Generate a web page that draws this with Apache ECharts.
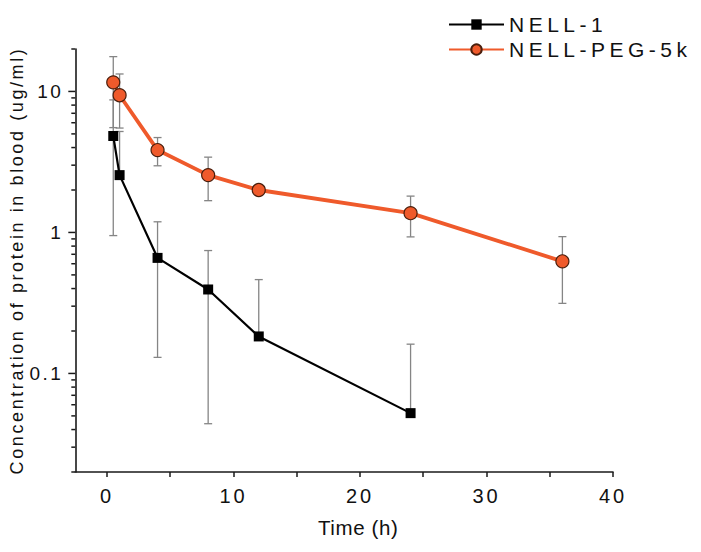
<!DOCTYPE html>
<html>
<head>
<meta charset="utf-8">
<script src="https://cdn.jsdelivr.net/npm/echarts@6/dist/echarts.min.js"></script>
<style>
html,body{margin:0;padding:0;background:#fff;}
#chart{width:701px;height:552px;}
</style>
</head>
<body>
<div id="chart"></div>
<script>
// ---- data ----
const TIMES_NELL1 = [0.5, 1, 4, 8, 12, 24];
const NELL1 = [4.83, 2.55, 0.66, 0.394, 0.183, 0.0523];
const NELL1_SD = [3.88, 2.65, 0.53, 0.35, 0.28, 0.109];

const TIMES_PEG = [0.5, 1, 4, 8, 12, 24, 36];
const PEG = [11.6, 9.4, 3.84, 2.55, 2.0, 1.37, 0.624];
const PEG_SD = [6.06, 3.9, 0.87, 0.87, 0.15, 0.44, 0.31];

const X_LABELS = [0, 10, 20, 30, 40];
const X_TICKS = [0, 5, 10, 15, 20, 25, 30, 35, 40];
const Y_MAJOR = [0.1, 1, 10];
const Y_MINOR = [0.02, 0.03, 0.04, 0.05, 0.06, 0.07, 0.08, 0.09,
                 0.2, 0.3, 0.4, 0.5, 0.6, 0.7, 0.8, 0.9,
                 2, 3, 4, 5, 6, 7, 8, 9, 20];

const NAMES = ['NELL-1', 'NELL-PEG-5k'];
const X_MIN = -2.5, X_MAX = 40, Y_MIN = 0.02, Y_MAX = 20;

// ---- build options ----
const FONT = 'Liberation Sans';
const ORANGE = '#EF5A2B';
const AXIS = '#1a1a1a';

function pairs(xs, ys) { return xs.map((x, i) => [x, ys[i]]); }
function errRows(xs, ys, sd) { return xs.map((x, i) => [x, ys[i], sd[i]]); }

function errorBarRender(params, api) {
  const t = api.value(0), m = api.value(1), e = api.value(2);
  const mid = api.coord([t, m]);
  const hi = api.coord([t, m + e]);
  const hasLo = (m - e) > 0;
  const lo = hasLo ? api.coord([t, m - e]) : mid;
  const cw = 4;
  const st = { stroke: '#858585', lineWidth: 1.3 };
  const ch = [
    { type: 'line', shape: { x1: hi[0], y1: hi[1], x2: lo[0], y2: lo[1] }, style: st },
    { type: 'line', shape: { x1: hi[0] - cw, y1: hi[1], x2: hi[0] + cw, y2: hi[1] }, style: st }
  ];
  if (hasLo) ch.push({ type: 'line', shape: { x1: lo[0] - cw, y1: lo[1], x2: lo[0] + cw, y2: lo[1] }, style: st });
  return { type: 'group', children: ch };
}

function tickRender(len) {
  return function (params, api) {
    const p = api.coord([api.value(0), api.value(1)]);
    const x0 = params.coordSys.x;
    return { type: 'line', shape: { x1: x0 - len, y1: p[1], x2: x0, y2: p[1] },
             style: { stroke: AXIS, lineWidth: 1.5 } };
  };
}

const option = {
  animation: false,
  backgroundColor: '#fff',
  textStyle: { fontFamily: FONT, color: AXIS },
  legend: {
    orient: 'vertical',
    left: 443, top: 9,
    itemWidth: 55, itemHeight: 13,
    itemGap: 4,
    data: NAMES,
    textStyle: { fontSize: 21, color: '#111', fontFamily: FONT },
    lineStyle: { width: 2 }
  },
  grid: { left: 75, right: 88, top: 49, bottom: 80, containLabel: false },
  xAxis: {
    type: 'value', min: X_MIN, max: X_MAX,
    name: 'Time (h)', nameLocation: 'middle', nameGap: 45,
    nameTextStyle: { fontSize: 20.5, color: '#111', padding: [0, 0, 0, 28] },
    axisLine: { onZero: false, lineStyle: { color: AXIS, width: 1.6 } },
    axisTick: { customValues: X_TICKS, length: 5, lineStyle: { color: AXIS, width: 1.5 } },
    axisLabel: { customValues: X_LABELS, fontSize: 20, color: '#111', margin: 14 },
    splitLine: { show: false }
  },
  yAxis: {
    type: 'log', logBase: 10, min: Y_MIN, max: Y_MAX,
    name: 'Concentration of protein in blood (ug/ml)', nameLocation: 'middle', nameGap: 47,
    nameTextStyle: { fontSize: 18, color: '#111' },
    axisLine: { onZero: false, lineStyle: { color: AXIS, width: 1.6 } },
    axisTick: { show: false },
    axisLabel: {
      fontSize: 19, color: '#111', margin: 12,
      formatter: function (v) {
        const l = Math.log10(v);
        if (Math.abs(l - Math.round(l)) > 1e-6) return '';
        return String(+v.toPrecision(6));
      }
    },
    splitLine: { show: false },
    minorTick: { show: false }
  },
  series: [
    { type: 'custom', name: 'ymajor', renderItem: tickRender(7), silent: true,
      encode: { x: 0, y: 1 }, data: Y_MAJOR.map(v => [X_MIN, v]), z: 5 },
    { type: 'custom', name: 'yminor', renderItem: tickRender(4), silent: true,
      encode: { x: 0, y: 1 }, data: Y_MINOR.map(v => [X_MIN, v]), z: 5 },
    { type: 'custom', name: 'err1', renderItem: errorBarRender, silent: true,
      encode: { x: 0, y: 1 }, data: errRows(TIMES_NELL1, NELL1, NELL1_SD), z: 1 },
    { type: 'custom', name: 'err2', renderItem: errorBarRender, silent: true,
      encode: { x: 0, y: 1 }, data: errRows(TIMES_PEG, PEG, PEG_SD), z: 1 },
    {
      type: 'line', name: NAMES[0], data: pairs(TIMES_NELL1, NELL1), z: 3,
      symbol: 'rect', symbolSize: 10, showAllSymbol: true,
      lineStyle: { color: '#000', width: 2.2 },
      itemStyle: { color: '#000', borderColor: '#000', borderWidth: 0 }
    },
    {
      type: 'line', name: NAMES[1], data: pairs(TIMES_PEG, PEG), z: 4,
      symbol: 'circle', symbolSize: 13, showAllSymbol: true,
      lineStyle: { color: ORANGE, width: 3.8 },
      itemStyle: { color: ORANGE, borderColor: '#4a1e0c', borderWidth: 1.2 }
    }
  ]
};

const chart = echarts.init(document.getElementById('chart'), null, { renderer: 'svg' });
chart.on('finished', function () {
  const spacing = { '21px': '4.5px', '19px': '2.5px', '20px': '2.8px', '18px': '2.6px', '20.5px': '0.6px' };
  document.querySelectorAll('#chart svg text').forEach(function (t) {
    const fs = getComputedStyle(t).fontSize;
    if (spacing[fs]) t.style.letterSpacing = spacing[fs];
  });
});
chart.setOption(option);
</script>
</body>
</html>
